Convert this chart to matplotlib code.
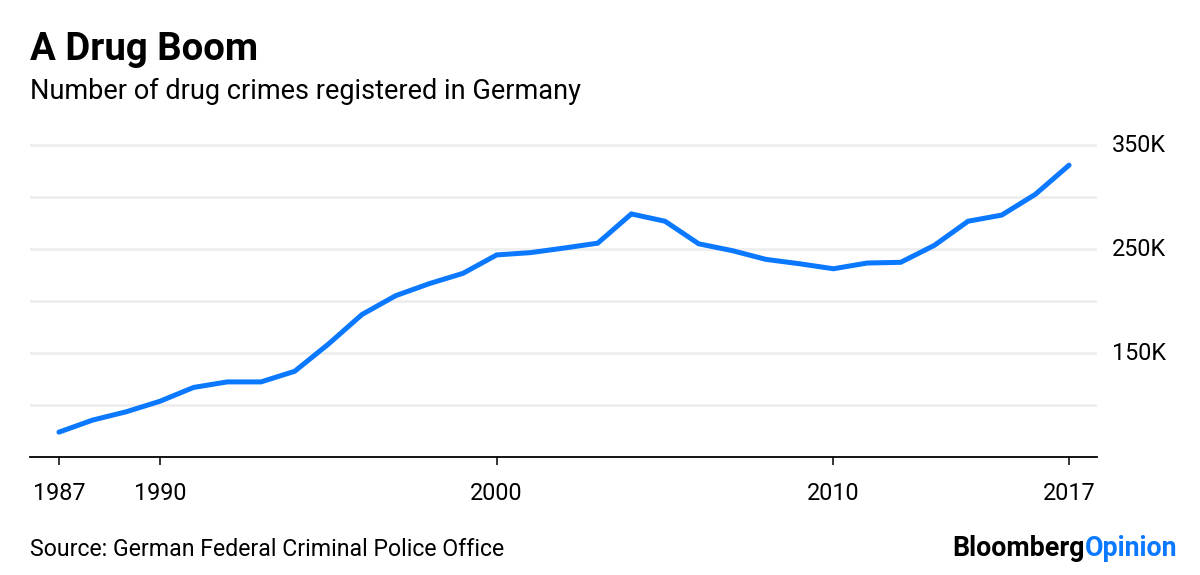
import matplotlib
matplotlib.use("Agg")
import matplotlib.pyplot as plt
from matplotlib.ticker import FixedLocator

years = list(range(1987, 2018))
crimes = [73900, 85500, 93500, 103600, 116900, 122200, 122200, 132400, 158500, 187000,
          205100, 216700, 226600, 244300, 246500, 250900, 255600, 283700, 276700, 255000,
          248400, 240000, 235800, 231000, 236500, 237200, 253500, 276700, 282600, 302600,
          330600]
x_ticks = [1987, 1990, 2000, 2010, 2017]
grid_values = [100000, 150000, 200000, 250000, 300000, 350000]
y_labels = [150000, 250000, 350000]

title = "A Drug Boom"
subtitle = "Number of drug crimes registered in Germany"
source = "Source: German Federal Criminal Police Office"

FONT = "Roboto"
plt.rcParams['font.family'] = [FONT, 'DejaVu Sans']

W, H = 1200, 575
fig = plt.figure(figsize=(W / 100, H / 100), dpi=100)

ymin, ymax = 50000, 360000
xmin, xmax = 1986.14, 2017.83
left, right = 30 / W, 1097 / W
bottom = (H - 457) / H
top_px = 457 - (ymax - ymin) / 1000 * 1.04
ax = fig.add_axes([left, bottom, right - left, (457 - top_px) / H])

ax.set_xlim(xmin, xmax)
ax.set_ylim(ymin, ymax)

for g in grid_values:
    ax.axhline(g, color="#eeeeee", lw=2, zorder=1)

ax.plot(years, crimes, color="#0a78ff", lw=3.6, solid_capstyle="round",
        solid_joinstyle="miter", zorder=3)

for s in ["top", "right", "left"]:
    ax.spines[s].set_visible(False)
ax.spines["bottom"].set_color("#000000")
ax.spines["bottom"].set_linewidth(1.3)

ax.xaxis.set_major_locator(FixedLocator(x_ticks))
ax.tick_params(axis="x", direction="out", length=6, width=1.1, color="#000000",
               labelsize=16.8, pad=12, labelcolor="#000000")
ax.set_yticks([])

for v in y_labels:
    ypx = 457 - (v - ymin) / 1000 * 1.04
    fig.text(1112 / W, 1 - ypx / H, f"{v // 1000}K", fontsize=16.8, va="center",
             ha="left", color="#000000")

fig.text(30 / W, 1 - 50 / H, title, fontsize=27.6, fontweight="bold", va="center",
         ha="left", color="#000000")
fig.text(30 / W, 1 - 91 / H, subtitle, fontsize=19.5, va="center", ha="left",
         color="#000000")
fig.text(30 / W, 1 - 549 / H, source, fontsize=16.7, va="center", ha="left",
         color="#000000")

# Logo
t1 = fig.text(952 / W, 1 - 549 / H, "Bloomberg", fontsize=19.3, fontweight="bold",
              va="center", ha="left", color="#000000")
fig.canvas.draw()
bb = t1.get_window_extent()
fig.text(bb.x1 / W, 1 - 549 / H, "Opinion", fontsize=19.3, fontweight="bold",
         va="center", ha="left", color="#0a78ff")

fig.savefig("out.png", dpi=100)
